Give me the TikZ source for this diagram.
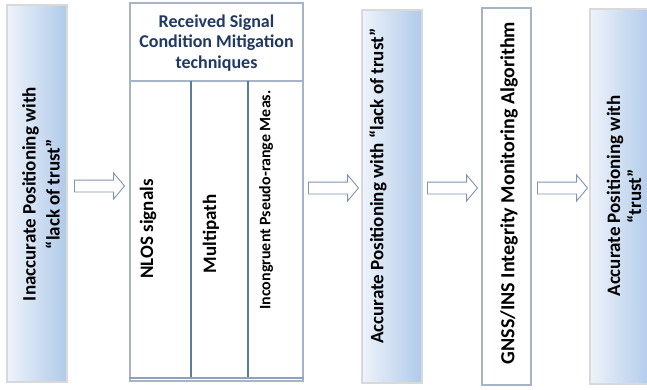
\documentclass[tikz,border=0pt]{standalone}
\usepackage{fontspec}
\setmainfont{Carlito}
\usepackage{tikz,xcolor}
\usetikzlibrary{positioning,shapes.arrows}
\definecolor{navy}{RGB}{31,56,100}
\definecolor{boxline}{RGB}{166,180,200}
\definecolor{colline}{RGB}{90,124,163}
\definecolor{arrline}{RGB}{128,148,175}
\definecolor{shadeL}{RGB}{238,243,251}
\definecolor{shadeR}{RGB}{176,202,233}
\pgfdeclarehorizontalshading{posshade}{100bp}{color(0bp)=(shadeL); color(25bp)=(shadeL); color(75bp)=(shadeR); color(100bp)=(shadeR)}

\begin{document}
\begin{tikzpicture}[x=1pt,y=-1pt,
		posbox/.style={draw=gray!75!black, double=gray!30, double distance=1.2pt, line width=.8pt, shading=posshade, inner sep=0},
		plainbox/.style={draw=boxline, line width=1.1pt, fill=white, inner sep=0},
		vtext/.style={rotate=90, font=\bfseries\fontsize{19}{24}\selectfont, align=center, inner sep=0},
		coltext/.style={vtext, font=\bfseries\fontsize{16}{19}\selectfont},
		flowarr/.style={single arrow, draw=arrline, line width=.9pt, fill=white, minimum height=50pt, single arrow head extend=7pt, single arrow tip angle=100, inner sep=0}]
		\useasboundingbox (0,0) rectangle (647,389);
		% boxes
		\node[posbox, minimum width=60pt, minimum height=377pt] (inacc) at (37,193.5) {};
		\node[plainbox, minimum width=173pt, minimum height=378pt] (mitig) at (216.5,192) {};
		\node[posbox, minimum width=60pt, minimum height=373pt] (acclack) at (392,196.5) {};
		\node[plainbox, minimum width=49pt, minimum height=377pt] (gnss) at (506.5,196.5) {};
		\node[posbox, minimum width=62pt, minimum height=375pt] (acctrust) at (621,196.5) {};
		% inside the mitigation box
		\draw[boxline, line width=1.1pt] (mitig.west |- 0,81) -- (mitig.east |- 0,81);
		\draw[colline, line width=1.4pt] (191,81) -- (191,378);
		\draw[colline, line width=1.4pt] (248,81) -- (248,378);
		\draw[colline!70, line width=1.1pt] (mitig.west |- 0,378) -- (mitig.east |- 0,378);
		\node[font=\bfseries\fontsize{18}{20.5}\selectfont, text=navy, align=center, inner sep=0] (mitigtitle) at (216.5,43) {Received Signal\\Condition Mitigation\\techniques};
		\node[vtext] (nlos) at (148,229) {NLOS signals};
		\node[vtext] (multi) at (211,234) {Multipath};
		\node[coltext] (incong) at (266,200) {Incongruent Pseudo-range Meas.};
		% texts
		\node[vtext] (inacctxt) at (41,194) {Inaccurate Positioning with\\“lack of trust”};
		\node[vtext] (acclacktxt) at (378,186) {Accurate Positioning with “lack of trust”};
		\node[vtext, font=\bfseries\fontsize{20}{24}\selectfont] (gnsstxt) at (509,193) {GNSS/INS Integrity Monitoring Algorithm};
		\node[vtext, font=\bfseries\fontsize{19}{21}\selectfont] (acctrusttxt) at (624,196) {Accurate Positioning with\\“trust”};
		% arrows
		\node[flowarr] (arr1) at (97,186) {\rule{0pt}{11pt}};
		\node[flowarr] (arr2) at (331,188) {\rule{0pt}{11pt}};
		\node[flowarr] (arr3) at (450,188) {\rule{0pt}{11pt}};
		\node[flowarr] (arr4) at (560,188) {\rule{0pt}{11pt}};
	\end{tikzpicture}
\end{document}
